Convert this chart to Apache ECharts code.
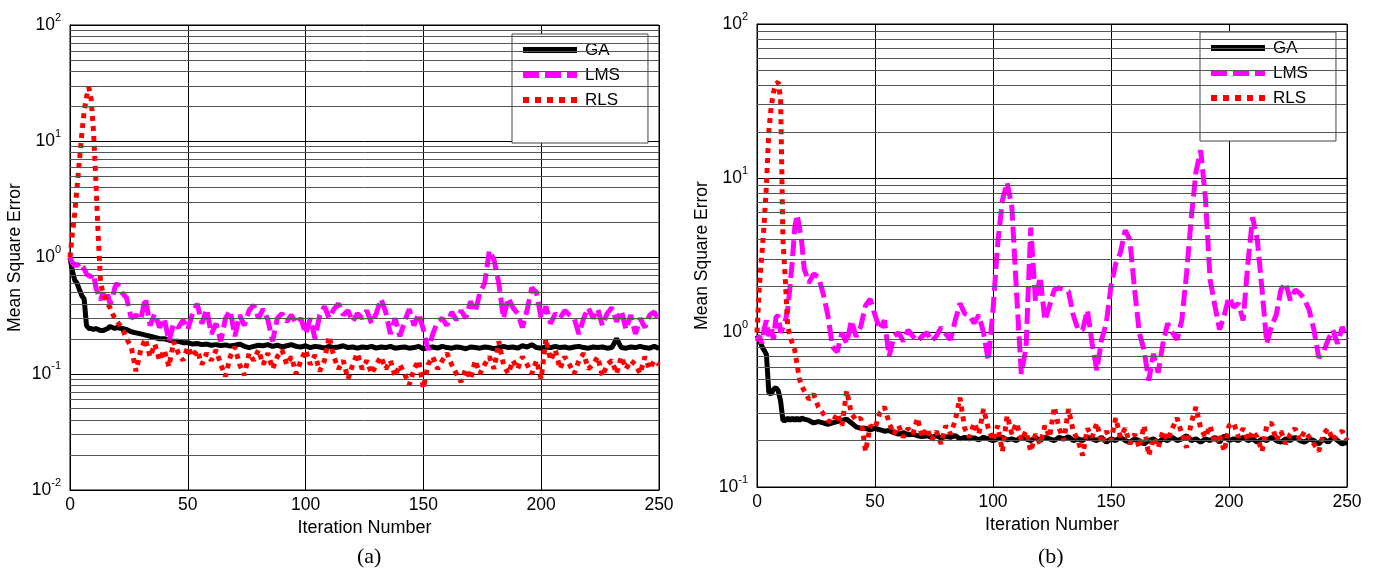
<!DOCTYPE html>
<html>
<head>
<meta charset="utf-8">
<script src="https://cdn.jsdelivr.net/npm/echarts@6/dist/echarts.min.js"></script>
<style>
html,body{margin:0;padding:0;background:#fff;}
#chart{width:1380px;height:574px;}
</style>
</head>
<body>
<div id="chart"></div>
<script>
// ---------- tick labels / axes ----------
const xTicks = [0, 50, 100, 150, 200, 250];
const minorGridA = [0.02,0.03,0.04,0.05,0.06,0.07,0.08,0.09,0.2,0.3,0.4,0.5,0.6,0.7,0.8,0.9,2,3,4,5,6,7,8,9,20,30,40,50,60,70,80,90];
const minorGridB = [0.2,0.3,0.4,0.5,0.6,0.7,0.8,0.9,2,3,4,5,6,7,8,9,20,30,40,50,60,70,80,90];
const seriesNames = ['GA', 'LMS', 'RLS'];

// ---------- panel (a) data: [iteration, mean square error] ----------
const gaA = [[0,1.0],[1,0.77],[2,0.64],[3,0.6],[4,0.53],[5,0.47],[6,0.44],[7,0.26],[8,0.245],[9,0.245],[10,0.24],[11,0.245],[12,0.24],[13,0.235],[14,0.235],[15,0.24],[16,0.245],[17,0.255],[18,0.25],[19,0.245],[20,0.25],
[22,0.245],[24,0.24],[26,0.23],[28,0.225],[30,0.22],[32,0.215],[34,0.21],[36,0.205],[38,0.2],[40,0.2],[42,0.195],[44,0.19],[46,0.19],[48,0.185],[50,0.185],[52,0.18],[54,0.182],[56,0.178],[58,0.18],[60,0.176],
[62,0.178],[64,0.175],[66,0.177],[68,0.173],[70,0.176],[72,0.18],[74,0.172],[76,0.168],[78,0.172],[80,0.176],[82,0.174],[84,0.178],[86,0.172],[88,0.176],[90,0.17],[92,0.174],[94,0.178],[96,0.172],[98,0.17],[100,0.174],
[102,0.168],[104,0.172],[106,0.17],[108,0.166],[110,0.172],[112,0.168],[114,0.17],[116,0.174],[118,0.168],[120,0.17],[122,0.166],[124,0.17],[126,0.168],[128,0.172],[130,0.166],[132,0.17],[134,0.168],[136,0.172],[138,0.166],[140,0.168],
[142,0.17],[144,0.166],[146,0.168],[148,0.172],[150,0.164],[152,0.168],[154,0.17],[156,0.166],[158,0.172],[160,0.168],[162,0.166],[164,0.17],[166,0.168],[168,0.164],[170,0.17],[172,0.168],[174,0.166],[176,0.17],[178,0.168],[180,0.164],
[182,0.168],[184,0.172],[186,0.168],[188,0.17],[190,0.166],[192,0.174],[194,0.17],[196,0.178],[198,0.168],[200,0.166],[202,0.17],[204,0.168],[206,0.172],[208,0.168],[210,0.17],[212,0.166],[214,0.17],[216,0.172],[218,0.168],[220,0.166],
[222,0.17],[224,0.168],[226,0.17],[228,0.166],[230,0.168],[232,0.2],[234,0.168],[236,0.166],[238,0.17],[240,0.168],[242,0.172],[244,0.168],[246,0.166],[248,0.172],[250,0.165]];

const lmsA = [[0,1.0],[1,0.9],[2,0.85],[3,0.88],[4,0.82],[5,0.86],[6,0.8],[7,0.72],[8,0.7],[9,0.68],[10,0.72],[11,0.55],[12,0.48],[13,0.43],[14,0.5],[15,0.42],[16,0.48],[17,0.4],[18,0.44],[19,0.55],[20,0.6],
[22,0.5],[24,0.45],[26,0.3],[28,0.32],[30,0.29],[32,0.45],[34,0.26],[36,0.33],[38,0.25],[40,0.3],[42,0.19],[44,0.27],[46,0.25],[48,0.29],[50,0.24],[52,0.33],[54,0.4],[56,0.27],[58,0.36],[60,0.22],
[62,0.27],[64,0.19],[66,0.3],[68,0.35],[70,0.21],[72,0.32],[74,0.26],[76,0.35],[78,0.39],[80,0.3],[82,0.36],[84,0.29],[86,0.19],[88,0.3],[90,0.33],[92,0.28],[94,0.32],[96,0.27],[98,0.3],[100,0.22],
[102,0.3],[104,0.2],[106,0.32],[108,0.38],[110,0.3],[112,0.36],[114,0.4],[116,0.32],[118,0.35],[120,0.28],[122,0.33],[124,0.3],[126,0.35],[128,0.27],[130,0.33],[132,0.44],[134,0.34],[136,0.22],[138,0.3],[140,0.21],
[142,0.28],[144,0.36],[146,0.26],[148,0.33],[150,0.24],[152,0.16],[154,0.22],[156,0.28],[158,0.3],[160,0.26],[162,0.34],[164,0.29],[166,0.35],[168,0.3],[170,0.42],[172,0.34],[174,0.5],[176,0.6],[178,1.15],[180,0.95],
[182,0.6],[184,0.3],[186,0.45],[188,0.37],[190,0.33],[192,0.25],[194,0.35],[196,0.55],[198,0.5],[200,0.3],[202,0.38],[204,0.27],[206,0.33],[208,0.3],[210,0.35],[212,0.32],[214,0.3],[216,0.22],[218,0.3],[220,0.37],
[222,0.3],[224,0.36],[226,0.26],[228,0.33],[230,0.37],[232,0.28],[234,0.35],[236,0.24],[238,0.32],[240,0.22],[242,0.3],[244,0.25],[246,0.32],[248,0.34],[250,0.28]];

const rlsA = [[0,1.0],[1,1.6],[2,2.4],[3,4.0],[4,6.8],[5,11.5],[6,18],[7,24],[8,29],[9,23],[10,12],[11,4.5],[12,1.5],[13,0.6],[14,0.5],[15,0.45],[16,0.4],[17,0.37],[18,0.33],[19,0.3],[20,0.28],
[22,0.25],[24,0.2],[26,0.17],[28,0.105],[30,0.16],[32,0.2],[34,0.14],[36,0.18],[38,0.13],[40,0.16],[42,0.115],[44,0.19],[46,0.15],[48,0.13],[50,0.17],[52,0.14],[54,0.16],[56,0.12],[58,0.15],[60,0.13],
[62,0.16],[64,0.12],[66,0.095],[68,0.14],[70,0.17],[72,0.12],[74,0.097],[76,0.15],[78,0.13],[80,0.16],[82,0.12],[84,0.15],[86,0.11],[88,0.14],[90,0.16],[92,0.12],[94,0.14],[96,0.1],[98,0.13],[100,0.16],
[102,0.12],[104,0.145],[106,0.105],[108,0.13],[110,0.21],[112,0.14],[114,0.11],[116,0.13],[118,0.09],[120,0.12],[122,0.15],[124,0.11],[126,0.13],[128,0.1],[130,0.12],[132,0.14],[134,0.11],[136,0.13],[138,0.095],[140,0.12],
[142,0.1],[144,0.08],[146,0.11],[148,0.13],[150,0.075],[152,0.12],[154,0.14],[156,0.11],[158,0.13],[160,0.15],[162,0.12],[164,0.1],[166,0.085],[168,0.11],[170,0.09],[172,0.13],[174,0.1],[176,0.12],[178,0.14],[180,0.11],
[182,0.19],[184,0.12],[186,0.1],[188,0.13],[190,0.11],[192,0.14],[194,0.12],[196,0.1],[198,0.13],[200,0.09],[202,0.2],[204,0.13],[206,0.16],[208,0.11],[210,0.14],[212,0.12],[214,0.1],[216,0.13],[218,0.15],[220,0.11],
[222,0.12],[224,0.14],[226,0.095],[228,0.12],[230,0.13],[232,0.1],[234,0.14],[236,0.11],[238,0.13],[240,0.12],[242,0.1],[244,0.14],[246,0.11],[248,0.13],[250,0.12]];

// ---------- panel (b) data ----------
const gaB = [[0,0.96],[1,0.9],[2,0.82],[3,0.77],[4,0.72],[5,0.41],[6,0.4],[7,0.43],[8,0.44],[9,0.42],[10,0.36],[11,0.27],[12,0.27],[13,0.28],[14,0.27],[15,0.28],[16,0.27],[17,0.28],[18,0.27],[19,0.28],[20,0.275],
[22,0.27],[24,0.26],[26,0.265],[28,0.26],[30,0.255],[32,0.26],[34,0.265],[36,0.27],[38,0.275],[40,0.26],[42,0.245],[44,0.24],[46,0.24],[48,0.235],[50,0.24],[52,0.235],[54,0.23],[56,0.232],[58,0.225],[60,0.22],
[62,0.225],[64,0.218],[66,0.22],[68,0.215],[70,0.212],[72,0.215],[74,0.21],[76,0.215],[78,0.208],[80,0.212],[82,0.21],[84,0.215],[86,0.205],[88,0.21],[90,0.205],[92,0.208],[94,0.202],[96,0.21],[98,0.205],[100,0.2],
[102,0.205],[104,0.21],[106,0.202],[108,0.205],[110,0.2],[112,0.21],[114,0.205],[116,0.2],[118,0.208],[120,0.2],[122,0.21],[124,0.205],[126,0.2],[128,0.21],[130,0.205],[132,0.212],[134,0.2],[136,0.205],[138,0.2],[140,0.21],
[142,0.205],[144,0.2],[146,0.21],[148,0.195],[150,0.205],[152,0.2],[154,0.21],[156,0.2],[158,0.195],[160,0.205],[162,0.2],[164,0.19],[166,0.2],[168,0.205],[170,0.195],[172,0.205],[174,0.2],[176,0.21],[178,0.2],[180,0.205],
[182,0.215],[184,0.2],[186,0.205],[188,0.195],[190,0.205],[192,0.2],[194,0.21],[196,0.195],[198,0.215],[200,0.2],[202,0.205],[204,0.2],[206,0.21],[208,0.2],[210,0.205],[212,0.195],[214,0.205],[216,0.2],[218,0.21],[220,0.2],
[222,0.195],[224,0.205],[226,0.2],[228,0.21],[230,0.2],[232,0.195],[234,0.205],[236,0.2],[238,0.19],[240,0.205],[242,0.195],[244,0.21],[246,0.2],[248,0.19],[250,0.195]];

const lmsB = [[0,0.88],[1,0.95],[2,0.85],[3,1.05],[4,1.2],[5,0.95],[6,1.1],[7,0.9],[8,1.25],[9,1.3],[10,1.0],[11,1.08],[12,1.2],[13,1.4],[14,2.0],[15,2.95],[16,4.8],[17,5.8],[18,4.8],[19,3.8],[20,2.6],
[22,2.1],[24,2.4],[26,2.3],[28,1.8],[30,1.3],[32,0.81],[34,0.75],[36,1.0],[38,0.85],[40,1.2],[42,0.94],[44,1.1],[46,1.5],[48,1.65],[50,1.3],[52,1.05],[54,1.2],[56,0.7],[58,0.95],[60,1.0],
[62,0.88],[64,1.04],[66,0.95],[68,0.88],[70,0.95],[72,1.0],[74,0.88],[76,0.95],[78,1.08],[80,0.98],[82,0.9],[84,1.2],[86,1.55],[88,1.33],[90,1.3],[92,1.15],[94,1.3],[96,1.0],[98,0.66],[100,1.4],
[102,3.8],[104,7.2],[106,9.4],[108,6.5],[110,1.8],[112,0.54],[114,0.8],[116,4.8],[118,1.6],[120,2.3],[122,1.2],[124,1.5],[126,1.9],[128,1.95],[130,1.9],[132,1.85],[134,1.3],[136,1.05],[138,1.04],[140,1.4],
[142,0.85],[144,0.57],[146,0.9],[148,1.15],[150,2.0],[152,2.8],[154,3.3],[156,4.6],[158,4.0],[160,1.9],[162,1.0],[164,0.77],[166,0.49],[168,0.73],[170,0.55],[172,0.85],[174,1.15],[176,1.0],[178,0.9],[180,1.2],
[182,2.4],[184,5.5],[186,11],[188,15.2],[190,7.5],[192,2.2],[194,1.5],[196,1.05],[198,1.3],[200,1.7],[202,1.46],[204,1.55],[206,1.2],[208,2.8],[210,5.6],[212,4.0],[214,1.9],[216,0.85],[218,1.1],[220,1.3],
[222,1.9],[224,2.1],[226,1.62],[228,1.9],[230,1.8],[232,1.65],[234,1.4],[236,1.04],[238,0.69],[240,0.75],[242,0.9],[244,1.04],[246,0.85],[248,1.09],[250,0.9]];

const rlsB = [[0,1.0],[1,2.0],[2,3.1],[3,5.0],[4,9],[5,20],[6,29],[7,36],[8,41],[9,42],[10,33],[11,4],[12,2.2],[13,1.1],[14,0.95],[15,0.85],[16,0.77],[17,0.62],[18,0.5],[19,0.45],[20,0.42],
[22,0.37],[24,0.4],[26,0.33],[28,0.3],[30,0.27],[32,0.26],[34,0.3],[36,0.25],[38,0.42],[40,0.3],[42,0.27],[44,0.28],[46,0.17],[48,0.25],[50,0.24],[52,0.3],[54,0.33],[56,0.26],[58,0.22],[60,0.25],
[62,0.21],[64,0.24],[66,0.22],[68,0.28],[70,0.21],[72,0.24],[74,0.2],[76,0.23],[78,0.19],[80,0.25],[82,0.22],[84,0.27],[86,0.38],[88,0.24],[90,0.21],[92,0.26],[94,0.22],[96,0.32],[98,0.24],[100,0.2],
[102,0.25],[104,0.17],[106,0.29],[108,0.22],[110,0.26],[112,0.2],[114,0.23],[116,0.17],[118,0.22],[120,0.19],[122,0.25],[124,0.21],[126,0.33],[128,0.24],[130,0.2],[132,0.32],[134,0.23],[136,0.2],[138,0.16],[140,0.24],
[142,0.21],[144,0.26],[146,0.19],[148,0.23],[150,0.2],[152,0.28],[154,0.21],[156,0.24],[158,0.19],[160,0.22],[162,0.18],[164,0.25],[166,0.16],[168,0.21],[170,0.18],[172,0.23],[174,0.2],[176,0.24],[178,0.28],[180,0.22],
[182,0.18],[184,0.26],[186,0.33],[188,0.24],[190,0.21],[192,0.25],[194,0.19],[196,0.22],[198,0.17],[200,0.25],[202,0.26],[204,0.21],[206,0.24],[208,0.2],[210,0.23],[212,0.21],[214,0.17],[216,0.25],[218,0.26],[220,0.2],
[222,0.23],[224,0.19],[226,0.22],[228,0.24],[230,0.2],[232,0.23],[234,0.21],[236,0.19],[238,0.17],[240,0.22],[242,0.24],[244,0.2],[246,0.22],[248,0.23],[250,0.2]];

// ---------- styling ----------
const FONT = '"Liberation Sans", Arial, sans-serif';
const COLORS = { GA: '#000000', LMS: '#ff00ff', RLS: '#ff0000' };
const LINESTYLES = {
  GA:  { width: 5, type: 'solid' },
  LMS: { width: 5, type: [16, 6] },
  RLS: { width: 5, type: [5, 5] }
};
// legend sample glyphs (solid bar, dashes, dots)
const LEGEND_ICONS = {
  GA:  'rect',
  LMS: 'path://M0,0H16V6H0Z M22,0H38V6H22Z M44,0H54V6H44Z',
  RLS: 'path://M0,0H6V6H0Z M12,0H18V6H12Z M24,0H30V6H24Z M36,0H42V6H36Z M48,0H54V6H48Z'
};

function supLabel(v) {
  const e = Math.round(Math.log10(v));
  return '{b|10}{s|' + e + '}';
}

function xAxis(gi) {
  return {
    type: 'value', gridIndex: gi, min: 0, max: 250, interval: 50,
    name: 'Iteration Number', nameLocation: 'middle', nameGap: 27,
    nameTextStyle: { fontFamily: FONT, fontSize: 18, color: '#000' },
    axisLine: { lineStyle: { color: '#000', width: 1 } },
    axisTick: { show: false },
    axisLabel: { fontFamily: FONT, fontSize: 17.5, color: '#000', margin: 6 },
    splitLine: { show: true, lineStyle: { color: '#000', width: 1 } }
  };
}
function yAxis(gi, min, max, split) {
  return {
    type: 'log', logBase: 10, gridIndex: gi, min: min, max: max, splitNumber: split,
    name: 'Mean Square Error', nameLocation: 'middle', nameGap: 46, nameRotate: 90,
    nameTextStyle: { fontFamily: FONT, fontSize: 17.5, color: '#000' },
    axisLine: { lineStyle: { color: '#000', width: 1 } },
    axisTick: { show: false },
    axisLabel: {
      margin: 9, formatter: supLabel,
      rich: {
        b: { fontFamily: FONT, fontSize: 17.5, color: '#000' },
        s: { fontFamily: FONT, fontSize: 11, color: '#000', padding: [0, 0, 15, 0] }
      }
    },
    splitLine: { show: true, lineStyle: { color: '#000', width: 1 } }
  };
}
function minorSeries(gi, vals) {
  return {
    type: 'line', xAxisIndex: gi, yAxisIndex: gi, data: [], z: 1, silent: true,
    markLine: {
      silent: true, symbol: 'none', label: { show: false },
      lineStyle: { color: '#555', width: 1, type: 'solid' },
      emphasis: { disabled: true },
      data: vals.map(v => ({ yAxis: v }))
    }
  };
}
function dataSeries(name, gi, data) {
  return {
    name: name, type: 'line', xAxisIndex: gi, yAxisIndex: gi, data: data,
    symbol: 'none', z: 3, smooth: false,
    color: COLORS[name],
    lineStyle: Object.assign({ color: COLORS[name], cap: 'butt', join: 'bevel' }, LINESTYLES[name])
  };
}
function legend(left, top) {
  return {
    data: seriesNames.map(n => ({
      name: n, icon: LEGEND_ICONS[n],
      itemStyle: { color: COLORS[n], borderColor: COLORS[n], borderWidth: 0, opacity: 1 }
    })),
    orient: 'vertical', left: left, top: top,
    itemWidth: 54, itemHeight: 6, itemGap: 7,
    padding: [7, 28, 34, 11],
    borderColor: '#444', borderWidth: 1, backgroundColor: '#fff',
    textStyle: { fontFamily: FONT, fontSize: 17, color: '#000', lineHeight: 18, padding: [0, 0, 0, 3] },
    selectedMode: false
  };
}

const chart = echarts.init(document.getElementById('chart'), null, { renderer: 'canvas' });
chart.setOption({
  animation: false,
  backgroundColor: '#fff',
  grid: [
    { left: 70, top: 25, width: 589, height: 465, show: true, borderColor: '#000', borderWidth: 1, backgroundColor: 'transparent' },
    { left: 757, top: 24, width: 590, height: 463, show: true, borderColor: '#000', borderWidth: 1, backgroundColor: 'transparent' }
  ],
  xAxis: [xAxis(0), xAxis(1)],
  yAxis: [yAxis(0, 0.01, 100, 4), yAxis(1, 0.1, 100, 3)],
  legend: [legend(512, 34), legend(1200, 32)],
  graphic: [
    { type: 'text', left: 357, top: 546, style: { text: '(a)', font: '22px "Liberation Serif", "Times New Roman", serif', fill: '#000' } },
    { type: 'text', left: 1038, top: 546, style: { text: '(b)', font: '22px "Liberation Serif", "Times New Roman", serif', fill: '#000' } }
  ],
  series: [
    minorSeries(0, minorGridA),
    minorSeries(1, minorGridB),
    dataSeries('GA', 0, gaA),
    dataSeries('LMS', 0, lmsA),
    dataSeries('RLS', 0, rlsA),
    dataSeries('GA', 1, gaB),
    dataSeries('LMS', 1, lmsB),
    dataSeries('RLS', 1, rlsB)
  ]
});
</script>
</body>
</html>
